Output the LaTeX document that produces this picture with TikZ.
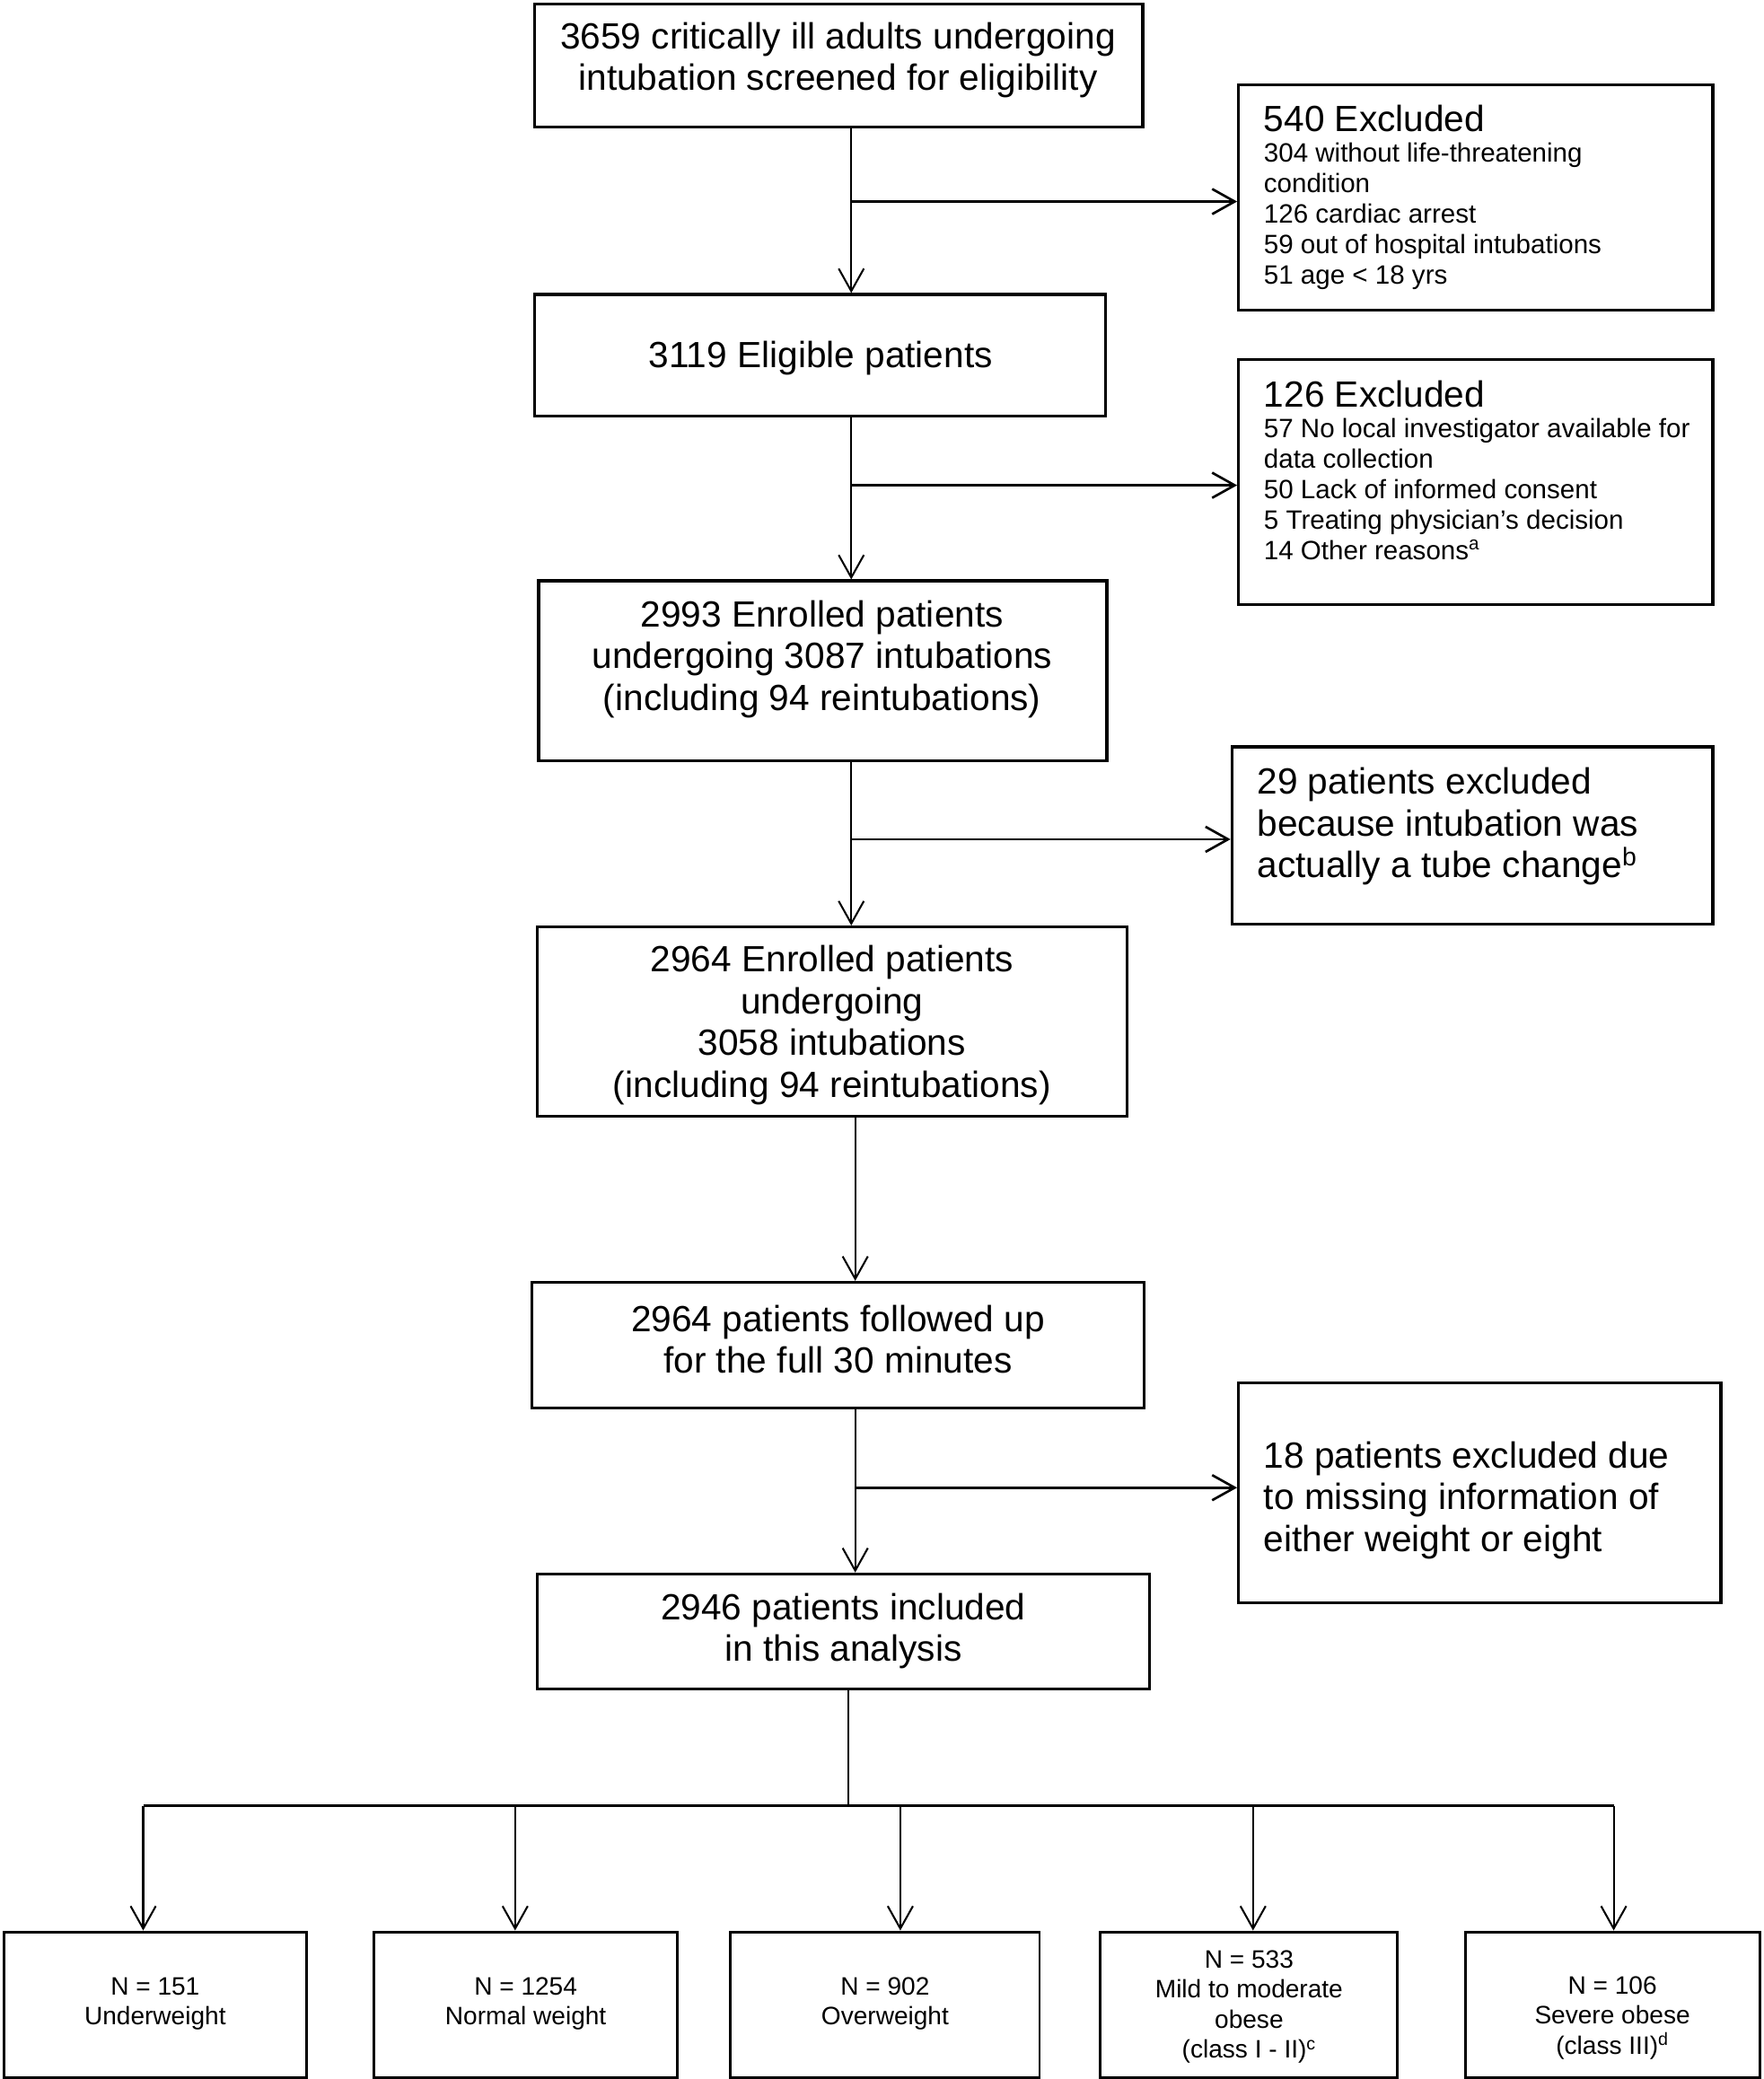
\documentclass[tikz,border=0pt]{standalone}
\usepackage{fontspec}
\setmainfont{Liberation Sans}
\usetikzlibrary{arrows.meta}
\newcommand{\natsp}{\spaceskip=0pt\xspaceskip=0pt\relax}
\begin{document}
\begin{tikzpicture}[x=1pt,y=-1pt,
  box/.style={draw, line width=2.3pt, inner sep=0pt},
  gbox/.style={draw, line width=2pt, inner sep=0pt, minimum height=110pt},
  ctext/.style={align=center, inner sep=0pt, font=\fontsize{27.5}{31.5}\selectfont},
  ltext/.style={align=left, inner sep=0pt, anchor=north west, text width=350pt, font=\fontsize{27.5}{31.5}\selectfont},
  btext/.style={align=center, inner sep=0pt, font=\fontsize{19}{22.5}\selectfont},
  vline/.style={line width=1.4pt},
  hline/.style={line width=1.8pt},
  tip/.style={-{Straight Barb[length=17pt,width=19pt]}},
]
\useasboundingbox (0,0) rectangle (1330,1568);

% main boxes
\node[box, minimum width=458.7pt, minimum height=92.7pt] (b1) at (632.5,49.5) {};
\node[box, minimum width=430.7pt, minimum height=91.7pt] (b2) at (618.5,268) {};
\node[box, minimum width=428.7pt, minimum height=135.7pt] (b3) at (620.5,506) {};
\node[box, minimum width=444.7pt, minimum height=142.7pt] (b4) at (627.5,770.5) {};
\node[box, minimum width=461.7pt, minimum height=94.7pt] (b5) at (632,1014.5) {};
\node[box, minimum width=461.7pt, minimum height=86.7pt] (b6) at (636,1230.5) {};

% exclusion boxes
\node[box, minimum width=357.7pt, minimum height=169.7pt] (x540) at (1113,149) {};
\node[box, minimum width=357.7pt, minimum height=184.7pt] (x126) at (1113,363.5) {};
\node[box, minimum width=362.7pt, minimum height=133.7pt] (x29) at (1110.5,630) {};
\node[box, minimum width=363.7pt, minimum height=165.7pt] (x18) at (1116,1126) {};

% group boxes
\node[gbox, minimum width=228pt] (g1) at (117,1512) {};
\node[gbox, minimum width=229pt] (g2) at (396.5,1512) {};
\node[gbox, minimum width=233pt] (g3) at (667.5,1512) {};
\node[gbox, minimum width=224pt] (g4) at (942,1512) {};
\node[gbox, minimum width=222pt] (g5) at (1216,1512) {};

% texts
\node[ctext] (t1) at (632,45.5) {3659 critically ill adults undergoing\\intubation screened for eligibility};
\node[ctext] (t2) at (619,270) {3119 Eligible patients};
\node[ctext] (t3) at (620,497) {2993 Enrolled patients\\undergoing 3087 intubations\\(including 94 reintubations)};
\node[ctext] (t4) at (627.5,773) {2964 Enrolled patients\\undergoing\\3058 intubations\\(including 94 reintubations)};
\node[ctext] (t5) at (632,1010) {2964 patients followed up\\for the full 30 minutes};
\node[ctext] (t6) at (636,1230) {2946 patients included\\in this analysis};

\node[ltext] (tx540) at (953,79) {\natsp 540 Excluded\par\fontsize{20}{23}\selectfont\natsp 304 without life-threatening\\condition\\126 cardiac arrest\\59 out of hospital intubations\\51 age < 18 yrs\par};
\node[ltext] (tx126) at (953,287) {\natsp 126 Excluded\par\fontsize{20}{23}\selectfont\natsp 57 No local investigator available for\\data collection\\50 Lack of informed consent\\5 Treating physician’s decision\\14 Other reasons\textsuperscript{a}\par};
\node[ltext] (tx29) at (948,579) {\natsp 29 patients excluded\\because intubation was\\actually a tube change\textsuperscript{b}};
\node[ltext] (tx18) at (953,1087) {\natsp 18 patients excluded due\\to missing information of\\either weight or eight};

\node[btext] (tg1) at (117,1511.5) {N = 151\\Underweight};
\node[btext] (tg2) at (396.5,1511) {N = 1254\\Normal weight};
\node[btext] (tg3) at (667.5,1511) {N = 902\\Overweight};
\node[btext] (tg4) at (942,1513.5) {N = 533\\Mild to moderate\\obese\\(class I - II)\textsuperscript{c}};
\node[btext] (tg5) at (1216,1522) {N = 106\\Severe obese\\(class III)\textsuperscript{d}};

% main flow connectors
\coordinate (v1) at (642,0);
\coordinate (v2) at (642,0);
\coordinate (v3) at (642,0);
\coordinate (v4) at (645,0);
\coordinate (v5) at (645,0);
\coordinate (v6) at (640,0);
\draw[vline,tip] (b1.south -| v1) -- (b2.north -| v1);
\draw[vline,tip] (b2.south -| v2) -- (b3.north -| v2);
\draw[vline,tip] (b3.south -| v3) -- (b4.north -| v3);
\draw[vline,tip] (b4.south -| v4) -- (b5.north -| v4);
\draw[vline,tip] (b5.south -| v5) -- (b6.north -| v5);

% exclusion branches
\coordinate (j1) at (642,152);
\coordinate (j2) at (642,366);
\coordinate (j3) at (642,633);
\coordinate (j5) at (645,1122);
\draw[hline,tip] (j1) -- (j1 -| x540.west);
\draw[hline,tip] (j2) -- (j2 -| x126.west);
\draw[hline,tip] (j3) -- (j3 -| x29.west);
\draw[hline,tip] (j5) -- (j5 -| x18.west);

% split into groups
\coordinate (hb) at (640,1362);
\coordinate (d1) at (108,1362);
\coordinate (d2) at (388.5,1362);
\coordinate (d3) at (679,1362);
\coordinate (d4) at (945,1362);
\coordinate (d5) at (1217,1362);
\draw[vline] (b6.south -| v6) -- (hb);
\draw[hline] (d1) -- (d5);
\draw[vline,tip] (d1) -- (d1 |- g1.north);
\draw[vline,tip] (d2) -- (d2 |- g2.north);
\draw[vline,tip] (d3) -- (d3 |- g3.north);
\draw[vline,tip] (d4) -- (d4 |- g4.north);
\draw[vline,tip] (d5) -- (d5 |- g5.north);
\end{tikzpicture}
\end{document}
